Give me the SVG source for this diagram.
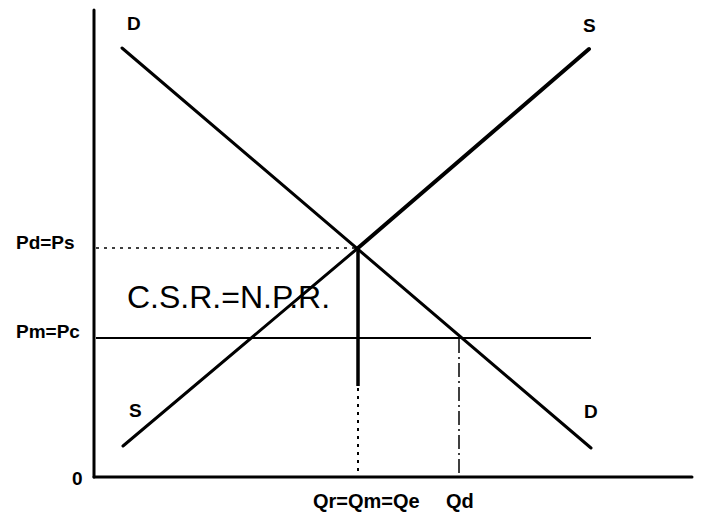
<svg xmlns="http://www.w3.org/2000/svg" width="709" height="514" viewBox="0 0 709 514">
<style>
.lbl{font-family:"Liberation Sans",Arial,sans-serif;font-weight:bold;font-size:19px;fill:#000}
.q{font-size:20px}
.big{font-family:"Liberation Sans",Arial,sans-serif;font-size:32px;fill:#000}
.ln{stroke:#000;fill:none;stroke-linecap:round}
</style>
<rect width="709" height="514" fill="#fff"/>
<g id="connectors">
<line class="ln" x1="94" y1="10" x2="94" y2="477" stroke-width="3"/>
<line class="ln" x1="94" y1="477" x2="692" y2="477" stroke-width="3"/>
<line class="ln" x1="122" y1="48" x2="591" y2="448" stroke-width="3"/>
<line class="ln" x1="123" y1="446" x2="358" y2="248" stroke-width="3"/>
<line class="ln" x1="358" y1="248" x2="589" y2="49" stroke-width="4"/>
<line x1="96" y1="248" x2="358" y2="248" stroke="#000" stroke-width="1.5" stroke-dasharray="3,5"/>
<line x1="96" y1="338" x2="591" y2="338" stroke="#000" stroke-width="2"/>
<line x1="358" y1="248" x2="358" y2="386" stroke="#000" stroke-width="3.5"/>
<line x1="358" y1="388" x2="358" y2="476" stroke="#000" stroke-width="2" stroke-dasharray="3,5"/>
<line x1="459" y1="339" x2="459" y2="476" stroke="#000" stroke-width="1.5" stroke-dasharray="14,4,2,4"/>
</g>
<g id="labels">
<text class="lbl" x="127" y="30">D</text>
<text class="lbl" x="583" y="32">S</text>
<text class="lbl" x="129" y="417">S</text>
<text class="lbl" x="584" y="418">D</text>
<text class="lbl" x="16" y="249">Pd=Ps</text>
<text class="lbl" x="16" y="338">Pm=Pc</text>
<text class="lbl" x="72" y="485">0</text>
<text class="lbl q" x="313" y="508">Qr=Qm=Qe</text>
<text class="lbl q" x="446" y="508">Qd</text>
<text class="big" x="127" y="308">C.S.R.=N.P.R.</text>
</g>
</svg>
